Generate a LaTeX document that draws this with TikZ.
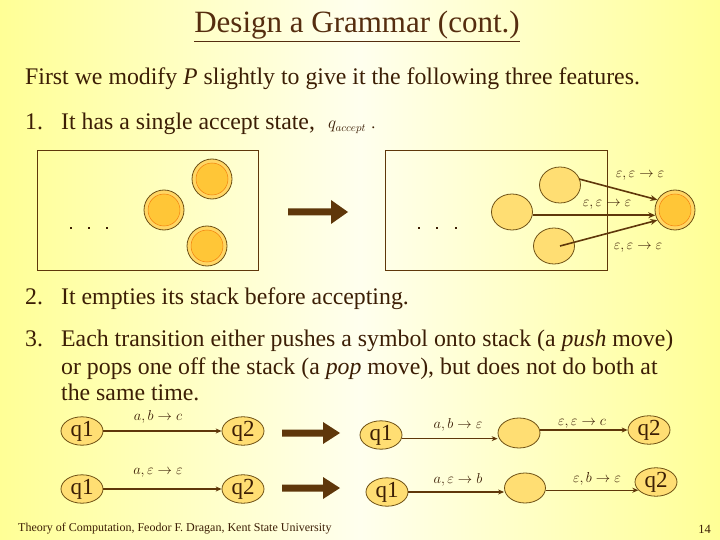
\documentclass[tikz,border=0pt]{standalone}
\usepackage{fontspec}
\setmainfont{Liberation Serif}
\usetikzlibrary{shapes.geometric,arrows.meta,calc}
\definecolor{bgyel}{RGB}{255,255,150}
\definecolor{bgwhite}{RGB}{255,255,238}
\definecolor{txt}{RGB}{60,30,5}
\definecolor{titlec}{RGB}{85,45,15}
\definecolor{brn}{RGB}{95,55,10}
\definecolor{ringfill}{RGB}{255,214,100}
\definecolor{innerfill}{RGB}{255,198,55}
\definecolor{statefill}{RGB}{255,222,115}
\definecolor{outl}{RGB}{110,80,20}
\newcommand{\itemnum}[1]{\makebox[36pt][l]{#1}}
\begin{document}
\begin{tikzpicture}[x=1pt,y=-1pt,
  txtnode/.style={anchor=base west,inner sep=0,text=txt,font=\fontsize{23.8}{27}\selectfont},
  ringst/.style={circle,draw=outl,line width=0.8pt,fill=ringfill,minimum size=40pt,inner sep=0},
  innerst/.style={circle,draw=orange!80!brown,line width=0.5pt,fill=innerfill,minimum size=32pt,inner sep=0},
  plainst/.style={ellipse,draw=outl,line width=0.8pt,fill=statefill,minimum width=41pt,minimum height=36pt,inner sep=0},
  qst/.style={ellipse,draw=outl,line width=0.8pt,fill=statefill,minimum width=42pt,minimum height=25pt,inner sep=0,text=txt,font=\fontsize{23}{24}\selectfont},
  boxst/.style={draw=brn,line width=0.8pt},
  conn/.style={draw=brn,line width=1.6pt,-{Stealth[length=7pt,width=6pt]}},
  lconn/.style={draw=brn,line width=1.2pt,-{Stealth[length=6pt,width=5pt]}},
  bigarrow/.style={fill=brn},
  lab/.style={inner sep=0,text=txt,font=\fontsize{15}{17}\selectfont},
  dotst/.style={fill=txt,minimum size=2.5pt,inner sep=0,rectangle}
]
\useasboundingbox (0,0) rectangle (720,540);
\shade[left color=bgyel,right color=bgyel,middle color=bgwhite] (0,0) rectangle (720,540);

% title
\node[anchor=base,inner sep=0,text=titlec,font=\fontsize{31}{34}\selectfont] (title) at (357,33) {\underline{Design a Grammar (cont.)}};

\node[txtnode] (l1) at (25,85) {First we modify \textit{P} slightly to give it the following three features.};
\node[txtnode] (l2) at (25,130) {\itemnum{1.}It has a single accept state,};
\node[anchor=base west,inner sep=0,text=txt,font=\fontsize{16}{18}\selectfont] (qacc) at (328,129) {$q_{accept}$\,\,.};

% left box
\draw[boxst] (37,150) rectangle (258,270);
\foreach \n/\x/\y in {a/212/179, b/164/210, c/207/246}{
  \node[ringst] (o\n) at (\x,\y) {};
  \node[innerst] (i\n) at (\x,\y) {};
}
\foreach \x/\n in {71/1,89/2,107/3} \node[dotst] (ld\n) at (\x,228) {};

% big arrow top
\fill[bigarrow] (288,208.5) -- (331,208.5) -- (331,200) -- (348,212) -- (331,224) -- (331,215.5) -- (288,215.5) -- cycle;

% right box
\draw[boxst] (385,150) rectangle (607,270);
\node[plainst] (ra) at (560,185) {};
\node[plainst] (rb) at (512,212) {};
\node[plainst] (rc) at (554,246) {};
\node[ringst] (acc) at (675,210) {};
\node[innerst] (acci) at (675,210) {};
\foreach \x/\n in {419/1,437/2,456/3} \node[dotst] (rd\n) at (\x,228) {};
\coordinate (s1) at (579,179);
\coordinate (s3) at (560,246);
\draw[conn] (s1) -- (acc.150);
\draw[conn] (rb.east |- acc.195) -- (acc.195);
\draw[conn] (s3) -- (acc.210);
\node[lab] (e1) at (640,176) {$\varepsilon,\varepsilon\rightarrow\varepsilon$};
\node[lab] (e2) at (607,205) {$\varepsilon,\varepsilon\rightarrow\varepsilon$};
\node[lab] (e3) at (638,248) {$\varepsilon,\varepsilon\rightarrow\varepsilon$};

\node[txtnode] (l3) at (25,304) {\itemnum{2.}It empties its stack before accepting.};
\node[txtnode] (l4) at (25,346) {\itemnum{3.}Each transition either pushes a symbol onto stack (a \textit{push} move)};
\node[txtnode] (l5) at (61,374) {or pops one off the stack (a \textit{pop} move), but does not do both at};
\node[txtnode] (l6) at (61,400) {the same time.};

% bottom left
\node[qst] (a1) at (82,431) {q1};
\node[qst] (a2) at (243,431) {q2};
\draw[lconn] (a1) -- (a2);
\node[lab] (la1) at (158,417) {$a,b\rightarrow c$};
\node[qst] (b1) at (82,489) {q1};
\node[qst] (b2) at (243,489) {q2};
\draw[lconn] (b1) -- (b2);
\node[lab] (lb1) at (158,473) {$a,\varepsilon\rightarrow\varepsilon$};

\fill[bigarrow] (282,429.5) -- (323,429.5) -- (323,422) -- (340,433) -- (323,444) -- (323,436.5) -- (282,436.5) -- cycle;
\fill[bigarrow] (282,484.5) -- (323,484.5) -- (323,477) -- (340,488) -- (323,499) -- (323,491.5) -- (282,491.5) -- cycle;

% bottom right
\node[qst] (c1) at (381,435) {q1};
\node[plainst,minimum width=42pt,minimum height=30pt] (cm) at (519,433) {};
\node[qst] (c2) at (649,430) {q2};
\draw[lconn] (c1.350) -- (cm.west |- c1.350);
\draw[lconn] (cm.east |- c2.west) -- (c2.west);
\node[lab] (lc1) at (458,425) {$a,b\rightarrow\varepsilon$};
\node[lab] (lc2) at (582,424) {$\varepsilon,\varepsilon\rightarrow c$};

\node[qst] (d1) at (387,492) {q1};
\node[plainst,minimum width=41pt,minimum height=30pt] (dm) at (525,488) {};
\node[qst] (d2) at (656,482) {q2};
\draw[lconn] (d1.east) -- (dm.west |- d1.east);
\draw[lconn] (dm.east |- d2.205) -- (d2.205);
\node[lab] (ld1) at (458,480) {$a,\varepsilon\rightarrow b$};
\node[lab] (ld2) at (597,479) {$\varepsilon,b\rightarrow\varepsilon$};

% footer
\node[anchor=base west,inner sep=0,text=txt,font=\fontsize{12}{13}\selectfont] (foot) at (18,531) {Theory of Computation, Feodor F. Dragan, Kent State University};
\node[anchor=base east,inner sep=0,text=txt,font=\fontsize{12.5}{13}\selectfont] (pg) at (711,533) {14};
\end{tikzpicture}
\end{document}
